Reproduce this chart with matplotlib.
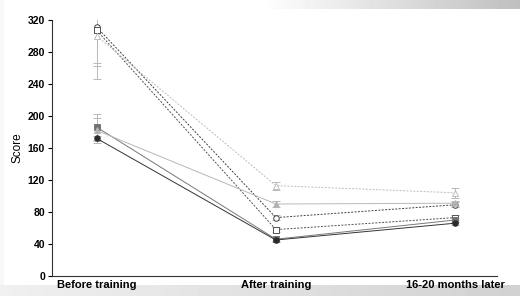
import matplotlib
matplotlib.use("Agg")
import matplotlib.pyplot as plt
import numpy as np

plt.rcParams['font.family'] = ['Liberation Sans', 'DejaVu Sans']

# data
stages = ["Before training", "After training", "16-20 months later"]
open_circle = [311, 73, 89]
open_circle_err = [45, 3, 3]
open_square = [307, 58, 73]
open_square_err = [44, 3, 3]
open_triangle = [300, 113, 104]
open_triangle_err = [54, 5, 6]
filled_square = [186, 46, 70]
filled_square_err = [16, 2, 3]
filled_triangle = [182, 90, 91]
filled_triangle_err = [16, 4, 3]
filled_circle = [172, 45, 66]
filled_circle_err = [3, 2, 2]

fig = plt.figure(figsize=(5.2, 2.96), dpi=100)

# slide-like grey shading at the edges
bg = fig.add_axes([0, 0, 1, 1], zorder=-10)
bg.axis('off')
h, w = 296, 520
img = np.ones((h, w))
xx = np.linspace(0, 1, w)
top = np.clip((xx - 0.5) / 0.5, 0, 1) * 0.25
img[:9, :] = 1 - top[None, :]
bot = 0.06 + xx * 0.12
img[285:, :] = 1 - bot[None, :]
img[:, :4] = np.minimum(img[:, :4], 0.97)
bg.imshow(img, cmap='gray', vmin=0, vmax=1, aspect='auto', extent=[0, 1, 0, 1])
bg.set_xlim(0, 1)
bg.set_ylim(0, 1)

ax = fig.add_axes([0.1, 0.0676, 0.856, 0.8647])
ax.patch.set_alpha(0)
x = np.arange(len(stages))

series = [
    (open_circle, open_circle_err, 'o', 'none', '#404040', (0, (2, 1.5))),
    (open_square, open_square_err, 's', 'none', '#505050', (0, (2, 1.5))),
    (open_triangle, open_triangle_err, '^', 'none', '#bdbdbd', (0, (2, 1.5))),
    (filled_square, filled_square_err, 's', '#707070', '#787878', '-'),
    (filled_triangle, filled_triangle_err, '^', '#b0b0b0', '#b8b8b8', '-'),
    (filled_circle, filled_circle_err, 'o', '#2a2a2a', '#333333', '-'),
]
for vals, err, mk, fc, col, ls in series:
    ax.errorbar(x, vals, yerr=err, color=col, ls=ls, lw=0.7, marker=mk,
                ms=4, mfc=fc if fc != 'none' else 'white', mec=col, mew=0.7,
                ecolor='#b8b8b8', elinewidth=0.7, capsize=3, capthick=0.7)

ax.set_xlim(-0.25, 2.235)
ax.set_ylim(0, 320)
ax.set_yticks(np.arange(0, 321, 40))
ax.set_xticks(x)
ax.set_xticklabels(stages, fontsize=8, fontweight='bold')
ax.tick_params(axis='x', length=0, pad=3)
ax.tick_params(axis='y', length=3, width=0.8, labelsize=7.5, pad=2)
for lab in ax.get_yticklabels():
    lab.set_fontweight('bold')
for s in ['top', 'right']:
    ax.spines[s].set_visible(False)
for s in ['left', 'bottom']:
    ax.spines[s].set_linewidth(0.8)
    ax.spines[s].set_color('#333333')
ax.set_ylabel("Score", fontsize=8.5, labelpad=3)

fig.savefig("out.png", dpi=100)
